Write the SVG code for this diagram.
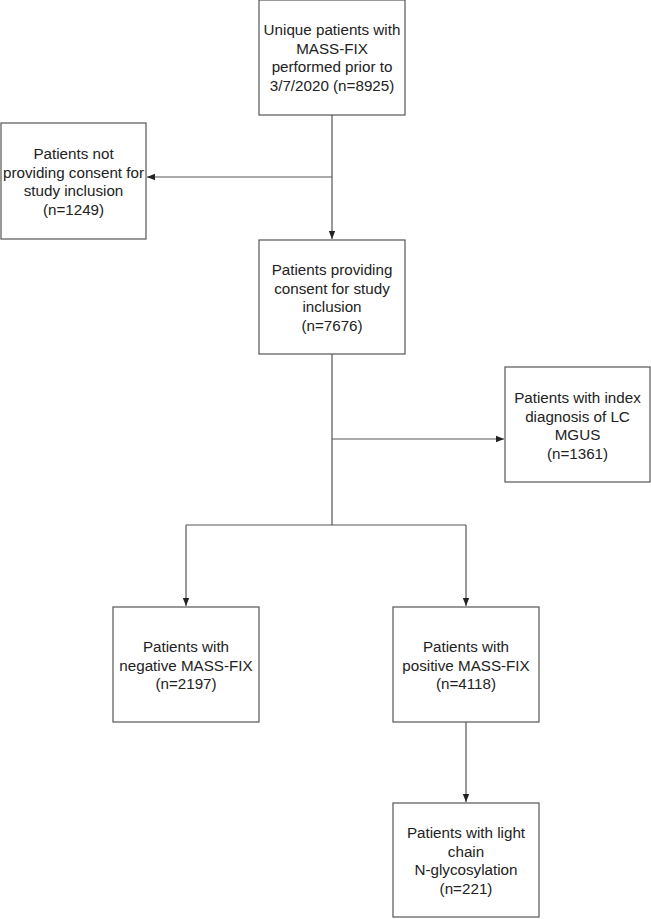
<svg xmlns="http://www.w3.org/2000/svg" width="651" height="919" viewBox="0 0 651 919">
<style>
.box{fill:#fff;stroke:#555;stroke-width:1.2}
.t{font-family:"Liberation Sans",Arial,sans-serif;font-size:15.2px;fill:#222;text-anchor:middle}
.c{fill:none;stroke:#555;stroke-width:1.2}
</style>
<defs>
<marker id="ah" viewBox="0 0 10 10" refX="10" refY="5" markerWidth="8" markerHeight="8" markerUnits="userSpaceOnUse" orient="auto">
<path d="M0,1 L10,5 L0,9 z" fill="#222"/>
</marker>
</defs>
<rect width="651" height="919" fill="#fff"/>
<g id="connectors">
<path class="c" d="M332,115 V239" marker-end="url(#ah)"/>
<path class="c" d="M332,177 H147" marker-end="url(#ah)"/>
<path class="c" d="M332,354 V525"/>
<path class="c" d="M332,439 H504" marker-end="url(#ah)"/>
<path class="c" d="M186,525 H466"/>
<path class="c" d="M186,525 V606" marker-end="url(#ah)"/>
<path class="c" d="M466,525 V606" marker-end="url(#ah)"/>
<path class="c" d="M466,722 V802" marker-end="url(#ah)"/>
</g>
<g id="n1">
<rect class="box" x="259" y="0" width="146" height="115"/>
<text class="t" x="332" y="35">Unique patients with</text>
<text class="t" x="332" y="54">MASS-FIX</text>
<text class="t" x="332" y="72">performed prior to</text>
<text class="t" x="332" y="91">3/7/2020 (n=8925)</text>
</g>
<g id="n2">
<rect class="box" x="1" y="123" width="145" height="116"/>
<text class="t" x="73.5" y="159">Patients not</text>
<text class="t" x="73.5" y="178">providing consent for</text>
<text class="t" x="73.5" y="196">study inclusion</text>
<text class="t" x="73.5" y="215">(n=1249)</text>
</g>
<g id="n3">
<rect class="box" x="259" y="240" width="146" height="114"/>
<text class="t" x="332" y="275">Patients providing</text>
<text class="t" x="332" y="294">consent for study</text>
<text class="t" x="332" y="312">inclusion</text>
<text class="t" x="332" y="331">(n=7676)</text>
</g>
<g id="n4">
<rect class="box" x="505" y="367" width="145" height="115"/>
<text class="t" x="577.5" y="403">Patients with index</text>
<text class="t" x="577.5" y="422">diagnosis of LC</text>
<text class="t" x="577.5" y="440">MGUS</text>
<text class="t" x="577.5" y="459">(n=1361)</text>
</g>
<g id="n5">
<rect class="box" x="113" y="607" width="146" height="115"/>
<text class="t" x="186" y="652">Patients with</text>
<text class="t" x="186" y="671">negative MASS-FIX</text>
<text class="t" x="186" y="689">(n=2197)</text>
</g>
<g id="n6">
<rect class="box" x="393" y="607" width="146" height="115"/>
<text class="t" x="466" y="652">Patients with</text>
<text class="t" x="466" y="671">positive MASS-FIX</text>
<text class="t" x="466" y="689">(n=4118)</text>
</g>
<g id="n7">
<rect class="box" x="393" y="803" width="146" height="114"/>
<text class="t" x="466" y="838">Patients with light</text>
<text class="t" x="466" y="857">chain</text>
<text class="t" x="466" y="875">N-glycosylation</text>
<text class="t" x="466" y="894">(n=221)</text>
</g>
</svg>
